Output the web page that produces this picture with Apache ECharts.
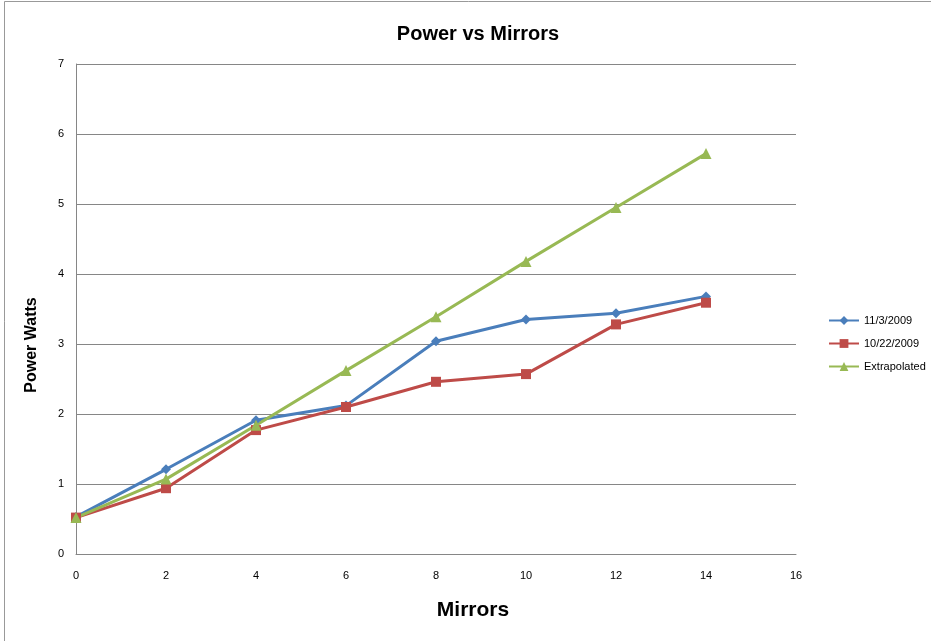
<!DOCTYPE html>
<html><head><meta charset="utf-8">
<script src="https://cdn.jsdelivr.net/npm/echarts@6/dist/echarts.min.js"></script>
<style>html,body{margin:0;padding:0;background:#fff}#c{width:931px;height:641px}</style>
</head><body><div id="c"></div>
<script>
const mirrors = [0, 2, 4, 6, 8, 10, 12, 14];
const nov3 = [0.53, 1.21, 1.91, 2.12, 3.04, 3.35, 3.44, 3.68];
const oct22 = [0.52, 0.94, 1.77, 2.10, 2.46, 2.57, 3.28, 3.59];
const extrapolated = [0.52, 1.07, 1.84, 2.62, 3.39, 4.18, 4.95, 5.72];
const seriesNames = ['11/3/2009', '10/22/2009', 'Extrapolated'];
const colors = ['#4A7EBB', '#BE4B48', '#98B954'];
const symbols = ['diamond', 'rect', 'triangle'];
const symbolSizes = [10, 10, 11];
const values = [nov3, oct22, extrapolated];

const chart = echarts.init(document.getElementById('c'));
const font = 'Liberation Sans, Arial, sans-serif';
chart.setOption({
  animation: false,
  backgroundColor: '#fff',
  graphic: [{type: 'rect', shape: {x: 4.5, y: 1.5, width: 940, height: 660}, style: {fill: 'none', stroke: '#999', lineWidth: 1}}],
  title: {text: 'Power vs Mirrors', left: 473, top: 19, textAlign: 'center',
    textStyle: {fontFamily: font, fontWeight: 'bold', fontSize: 20, color: '#000'}},
  legend: {orient: 'vertical', left: 823, top: 310, itemGap: 12, itemWidth: 30, itemHeight: 11,
    textStyle: {fontFamily: font, fontSize: 11, color: '#000'},
    data: seriesNames},
  grid: {left: 76, right: 135, top: 64, bottom: 87},
  xAxis: {type: 'value', min: 0, max: 16, interval: 2,
    name: 'Mirrors', nameLocation: 'middle', nameGap: 46,
    nameTextStyle: {fontFamily: font, fontWeight: 'bold', fontSize: 21, color: '#000', padding: [0, 0, 0, 74]},
    axisLine: {lineStyle: {color: '#868686'}}, axisTick: {show: false},
    axisLabel: {fontFamily: font, fontSize: 11, color: '#000', margin: 16},
    splitLine: {show: false}},
  yAxis: {type: 'value', min: 0, max: 7, interval: 1,
    name: 'Power Watts', nameLocation: 'middle', nameGap: 36, nameRotate: 90,
    nameTextStyle: {fontFamily: font, fontWeight: 'bold', fontSize: 16, color: '#000', padding: [0, 0, 0, -72]},
    axisLine: {show: true, lineStyle: {color: '#868686'}}, axisTick: {show: false},
    axisLabel: {fontFamily: font, fontSize: 11, color: '#000', margin: 12},
    splitLine: {lineStyle: {color: '#868686'}}},
  series: values.map((v, i) => ({
    name: seriesNames[i], type: 'line',
    data: v.map((y, j) => [mirrors[j], y]),
    symbol: symbols[i], symbolSize: symbolSizes[i], showSymbol: true,
    itemStyle: {color: colors[i]}, lineStyle: {color: colors[i], width: 3}
  }))
});
</script></body></html>
